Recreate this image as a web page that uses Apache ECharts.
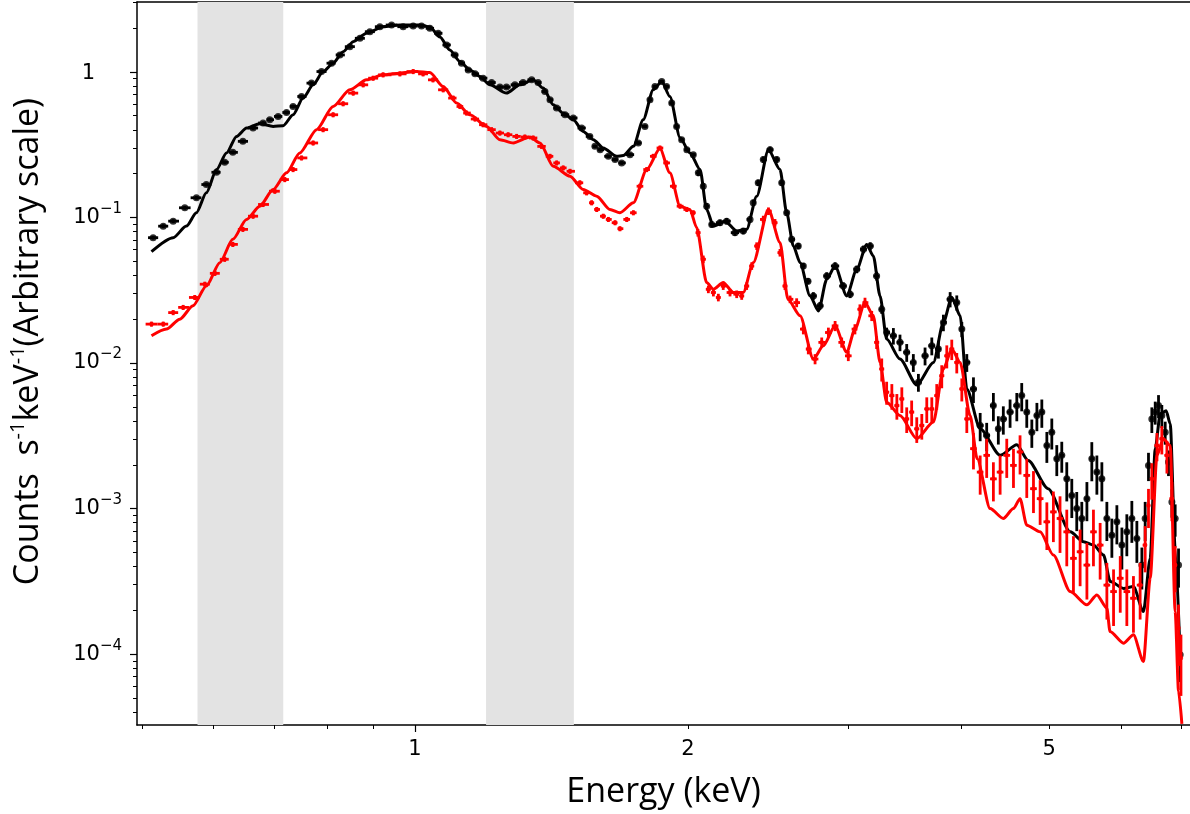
<!DOCTYPE html>
<html>
<head>
<meta charset="utf-8">
<title>Spectrum</title>
<script src="https://cdn.jsdelivr.net/npm/echarts@6/dist/echarts.min.js"></script>
<style>
  html, body { margin: 0; padding: 0; background: #fff; }
  #chart { width: 1190px; height: 814px; }
</style>
</head>
<body>
<div id="chart"></div>
<script>
// axis ranges (keV, counts s^-1 keV^-1)
var xRange = [0.494, 7.15];
var yRange = [3.26e-5, 3.02];

// shaded energy bands
var bands = [[0.576, 0.716], [1.198, 1.497]];

// tick marks
var xMajorTicks = [1];
var xMinorTicks = [0.5, 0.6, 0.7, 0.8, 0.9, 2, 3, 4, 5, 6, 7];
var xTickLabels = [1, 2, 5];
var yMajorTicks = [1e-4, 1e-3, 1e-2, 1e-1, 1];
var yMinorMultipliers = [2, 3, 4, 5, 6, 7, 8, 9];

// black model
var blackModelE = [0.5125,0.5415,0.560,0.5744,0.589,0.6045,0.620,0.636,0.6523,0.6746,
  0.6978,0.7158,0.7341,0.753,0.7724,0.7922,0.8126,0.8335,0.8551,0.8846,
  0.9225,0.9627,1.0128,1.0388,1.0656,1.0928,1.121,1.150,1.1795,1.2098,
  1.2617,1.3055,1.350,1.385,1.4207,1.457,1.4949,1.533,1.573,1.6129,
  1.669,1.697,1.741,1.785,1.831,1.871,1.910,1.960,2.010,2.062,
  2.097,2.133,2.197,2.263,2.321,2.381,2.453,2.526,2.569,2.613,
  2.658,2.726,2.785,2.844,2.905,2.992,3.069,3.148,3.201,3.256,
  3.311,3.425,3.574,3.728,3.824,3.906,3.99,4.058,4.198,4.416,
  4.607,4.742,4.988,5.276,5.457,5.597,5.741,5.840,6.04,6.194,
  6.353,6.463,6.546,6.630,6.73,6.80,6.886,6.974];
var blackModelV = [0.0582,0.0726,0.0872,0.1077,0.1476,0.2133,0.2774,0.3604,0.4115,0.4404,
  0.4220,0.4267,0.5075,0.6606,0.8147,1.005,1.147,1.377,1.613,1.841,
  2.043,2.099,2.099,2.033,1.737,1.415,1.176,1.032,0.929,0.8147,
  0.7146,0.8147,0.8815,0.7734,0.5943,0.5215,0.469,0.390,0.342,0.3002,
  0.263,0.266,0.3078,0.469,0.7528,0.858,0.6774,0.353,0.2774,0.2133,
  0.1135,0.0872,0.0943,0.0806,0.0828,0.140,0.2922,0.2133,0.1077,0.0636,
  0.0489,0.0289,0.0228,0.0376,0.0464,0.0289,0.0440,0.0653,0.0543,0.0289,
  0.0146,0.01065,0.00707,0.0101,0.0190,0.0283,0.0211,0.00664,0.00353,0.00232,
  0.00274,0.00214,0.00137,0.000692,0.000591,0.000561,0.000479,0.000316,0.000283,0.000291,
  0.000196,0.000455,0.00258,0.00448,0.00469,0.00382,0.000532,0.0000939];

// red model
var redModelE = [0.5125,0.5324,0.5507,0.5694,0.589,0.6095,0.630,0.6523,0.6746,0.6978,
  0.722,0.7467,0.7792,0.8126,0.8478,0.8846,0.9225,0.9627,1.004,1.0388,
  1.0745,1.1117,1.150,1.1997,1.2408,1.2835,1.3392,1.3736,1.4207,1.4824,
  1.533,1.5864,1.6406,1.6827,1.741,1.801,1.8627,1.910,1.960,2.010,
  2.044,2.097,2.133,2.187,2.244,2.301,2.360,2.453,2.526,2.577,
  2.658,2.749,2.819,2.905,2.992,3.055,3.134,3.201,3.256,3.311,
  3.425,3.574,3.728,3.824,3.906,3.99,4.092,4.166,4.305,4.452,
  4.568,4.645,4.725,4.888,5.055,5.276,5.504,5.645,5.790,5.836,
  6.04,6.194,6.353,6.463,6.575,6.683,6.80,6.886,6.945,7.004];
var redModelV = [0.01538,0.0171,0.0200,0.0247,0.0338,0.0489,0.0707,0.0969,0.1195,0.1555,
  0.2024,0.2774,0.4009,0.5786,0.7528,0.8815,0.954,0.980,1.005,0.989,
  0.793,0.6104,0.5075,0.422,0.342,0.3248,0.357,0.3248,0.2246,0.1918,
  0.1555,0.140,0.1135,0.1077,0.1261,0.2133,0.297,0.2024,0.1195,0.1135,
  0.0854,0.0357,0.0321,0.0357,0.0305,0.0305,0.0489,0.1135,0.0674,0.0274,
  0.0211,0.01065,0.01313,0.0180,0.01184,0.0171,0.0260,0.0211,0.0101,0.00538,
  0.00436,0.00302,0.00393,0.0091,0.01247,0.0101,0.00436,0.0022,0.001,0.000855,
  0.001,0.00117,0.000769,0.000692,0.000479,0.000269,0.000218,0.000255,0.000207,0.000143,
  0.000119,0.000136,0.0000891,0.000332,0.00232,0.00302,0.00271,0.000196,0.0000556,0.0000332];

// black data points and fractional errors
var blackDataE = [0.5146,0.528,0.5415,0.5577,0.5744,0.589,0.6045,0.6171,0.630,0.6463,
  0.6632,0.6803,0.692,0.7068,0.722,0.7341,0.750,0.7692,0.789,0.8094,
  0.8266,0.8478,0.8698,0.892,0.915,0.9426,0.9707,0.9957,1.017,1.0388,
  1.061,1.084,1.107,1.126,1.145,1.165,1.189,1.215,1.2408,1.2617,
  1.289,1.316,1.345,1.367,1.391,1.409,1.433,1.464,1.4949,1.527,
  1.559,1.579,1.600,1.634,1.662,1.690,1.726,1.763,1.793,1.816,
  1.839,1.871,1.894,1.919,1.943,1.968,1.994,2.027,2.053,2.079,
  2.097,2.124,2.169,2.206,2.253,2.301,2.341,2.360,2.390,2.421,
  2.463,2.505,2.537,2.569,2.602,2.646,2.680,2.712,2.749,2.796,
  2.844,2.905,2.966,3.018,3.069,3.122,3.176,3.228,3.270,3.311,
  3.368,3.425,3.484,3.543,3.589,3.650,3.713,3.776,3.824,3.890,
  3.956,4.007,4.058,4.127,4.198,4.268,4.341,4.396,4.452,4.529,
  4.607,4.665,4.725,4.786,4.848,4.909,4.972,5.035,5.099,5.164,
  5.230,5.297,5.364,5.433,5.504,5.573,5.645,5.717,5.790,5.864,
  5.939,6.015,6.091,6.169,6.248,6.328,6.381,6.435,6.490,6.546,
  6.601,6.657,6.714,6.770,6.829,6.886,6.945,6.974];
var blackDataV = [0.0726,0.0871,0.0943,0.1165,0.1365,0.1683,0.2043,0.2393,0.280,0.3332,
  0.4115,0.4453,0.469,0.494,0.526,0.5786,0.6774,0.837,1.005,1.147,
  1.307,1.490,1.701,1.888,2.043,2.099,2.043,2.065,2.065,1.992,
  1.841,1.531,1.307,1.147,1.032,0.969,0.905,0.845,0.786,0.786,
  0.8147,0.845,0.8815,0.845,0.733,0.643,0.564,0.5075,0.482,0.4115,
  0.3604,0.3078,0.292,0.263,0.2496,0.2369,0.270,0.3248,0.422,0.643,
  0.793,0.858,0.793,0.6104,0.422,0.342,0.292,0.270,0.2024,0.1638,
  0.1195,0.0895,0.092,0.0943,0.0786,0.0806,0.0969,0.1261,0.173,0.2496,
  0.292,0.2496,0.173,0.1077,0.0707,0.0636,0.0464,0.0365,0.0289,0.0247,
  0.0396,0.0464,0.0338,0.0297,0.0440,0.0604,0.0636,0.0396,0.0234,0.0162,
  0.01538,0.01386,0.01184,0.0101,0.00738,0.0112,0.01313,0.01247,0.019,0.0274,
  0.0260,0.0171,0.0101,0.00664,0.00372,0.00318,0.0051,0.00353,0.00413,0.0046,
  0.0051,0.00597,0.0046,0.00335,0.00436,0.0046,0.00271,0.00335,0.0022,0.00232,
  0.0016,0.00123,0.001,0.000855,0.00117,0.0022,0.00178,0.0016,0.000855,0.000656,
  0.000811,0.000561,0.000692,0.000855,0.000623,0.000409,0.000855,0.00198,0.00413,0.0046,
  0.0051,0.00436,0.00335,0.00209,0.00111,0.000855,0.000409,0.0000989];
var blackDataErr = [0.03,0.03,0.03,0.03,0.03,0.03,0.03,0.03,0.03,0.03,
  0.03,0.03,0.03,0.03,0.03,0.03,0.03,0.03,0.03,0.03,
  0.03,0.03,0.03,0.03,0.03,0.03,0.03,0.03,0.03,0.03,
  0.03,0.03,0.03,0.03,0.03,0.03,0.03,0.03,0.03,0.03,
  0.03,0.03,0.03,0.03,0.03,0.03,0.03,0.03,0.03,0.03,
  0.03,0.03,0.03,0.03,0.03,0.03,0.03,0.03,0.03,0.03,
  0.03,0.03,0.03,0.03,0.03,0.03,0.03,0.03,0.05,0.05,
  0.05,0.05,0.05,0.05,0.05,0.05,0.05,0.05,0.05,0.05,
  0.05,0.05,0.05,0.05,0.05,0.05,0.05,0.05,0.06,0.06,
  0.06,0.06,0.06,0.06,0.06,0.06,0.06,0.07,0.07,0.08,
  0.13,0.13,0.14,0.14,0.14,0.14,0.14,0.14,0.13,0.12,
  0.12,0.12,0.14,0.2,0.22,0.22,0.22,0.22,0.22,0.22,
  0.22,0.22,0.22,0.22,0.22,0.22,0.24,0.24,0.24,0.24,
  0.3,0.3,0.3,0.3,0.3,0.3,0.3,0.3,0.3,0.3,
  0.3,0.32,0.32,0.32,0.32,0.32,0.3,0.22,0.2,0.18,
  0.18,0.18,0.18,0.2,0.22,0.25,0.3,0.35];

// red data points and fractional errors
var redDataE = [0.5125,0.528,0.5415,0.5554,0.572,0.5868,0.602,0.6171,0.630,0.6463,
  0.6632,0.6803,0.7009,0.7188,0.7341,0.750,0.7724,0.7922,0.8126,0.8335,
  0.8551,0.877,0.8995,0.9225,0.9627,0.9957,1.021,1.047,1.0745,1.102,
  1.121,1.140,1.165,1.189,1.215,1.2408,1.267,1.2945,1.322,1.350,
  1.379,1.409,1.433,1.457,1.4824,1.520,1.546,1.566,1.5864,1.6129,
  1.634,1.662,1.6827,1.712,1.741,1.770,1.801,1.831,1.8627,1.894,
  1.927,1.960,1.994,2.027,2.051,2.079,2.106,2.133,2.160,2.187,
  2.225,2.263,2.292,2.321,2.351,2.381,2.421,2.453,2.494,2.526,
  2.558,2.591,2.635,2.680,2.714,2.761,2.808,2.856,2.905,2.954,
  3.004,3.055,3.094,3.134,3.188,3.228,3.270,3.311,3.355,3.398,
  3.441,3.484,3.528,3.574,3.620,3.666,3.713,3.760,3.808,3.857,
  3.906,3.956,4.007,4.058,4.127,4.198,4.268,4.341,4.416,4.491,
  4.568,4.645,4.725,4.806,4.888,4.972,5.055,5.141,5.230,5.319,
  5.410,5.504,5.596,5.692,5.790,5.889,5.990,6.091,6.194,6.30,
  6.381,6.435,6.490,6.575,6.657,6.743,6.829,6.886,6.945,6.988];
var redDataV = [0.0185,0.0185,0.0222,0.0241,0.0282,0.0348,0.0413,0.0516,0.0653,0.0828,
  0.102,0.1228,0.1514,0.182,0.2133,0.2564,0.3248,0.4009,0.5075,0.604,
  0.7146,0.8147,0.905,0.954,0.969,1.005,0.969,0.8815,0.753,0.6606,
  0.5786,0.5215,0.4744,0.4335,0.4009,0.380,0.370,0.3604,0.357,0.3515,
  0.3078,0.263,0.2369,0.219,0.2075,0.173,0.1476,0.1261,0.1135,0.102,
  0.0969,0.092,0.0837,0.0969,0.1077,0.1638,0.2133,0.263,0.300,0.2369,
  0.1638,0.1195,0.1135,0.1077,0.0786,0.0516,0.0321,0.0305,0.0282,0.0338,
  0.0305,0.0297,0.0289,0.0338,0.0464,0.0636,0.0969,0.1105,0.092,0.0573,
  0.0338,0.0274,0.0260,0.0171,0.01247,0.01065,0.01386,0.0162,0.018,0.01386,
  0.0112,0.0171,0.0234,0.026,0.0211,0.01386,0.0091,0.0063,0.00597,0.0051,
  0.00567,0.00413,0.0046,0.00353,0.00372,0.00484,0.00484,0.00597,0.00818,0.0112,
  0.01247,0.0101,0.00664,0.00413,0.00258,0.00178,0.00232,0.0016,0.00178,0.00232,
  0.00198,0.00245,0.00169,0.00137,0.00117,0.000811,0.000949,0.000855,0.000692,0.000455,
  0.000505,0.000409,0.000692,0.000561,0.000298,0.000269,0.000332,0.000269,0.000242,0.000298,
  0.000561,0.00105,0.0016,0.00271,0.00302,0.00232,0.00117,0.000409,0.000151,0.0000939];
var redDataErr = [0.04,0.04,0.04,0.04,0.04,0.04,0.04,0.04,0.04,0.04,
  0.04,0.04,0.04,0.04,0.04,0.04,0.04,0.04,0.04,0.04,
  0.04,0.04,0.04,0.04,0.04,0.04,0.04,0.04,0.04,0.04,
  0.04,0.04,0.04,0.04,0.04,0.04,0.04,0.04,0.04,0.04,
  0.04,0.04,0.04,0.04,0.04,0.04,0.04,0.04,0.04,0.04,
  0.04,0.04,0.04,0.04,0.04,0.04,0.04,0.04,0.04,0.04,
  0.04,0.04,0.04,0.04,0.06,0.06,0.06,0.06,0.06,0.06,
  0.06,0.06,0.06,0.06,0.06,0.06,0.06,0.06,0.06,0.06,
  0.06,0.06,0.07,0.08,0.08,0.08,0.08,0.08,0.08,0.08,
  0.08,0.08,0.08,0.08,0.08,0.1,0.18,0.18,0.2,0.2,
  0.2,0.2,0.2,0.2,0.2,0.2,0.2,0.2,0.18,0.18,
  0.16,0.16,0.18,0.2,0.28,0.3,0.3,0.3,0.3,0.3,
  0.3,0.3,0.3,0.32,0.34,0.36,0.38,0.42,0.42,0.42,
  0.42,0.42,0.42,0.42,0.42,0.42,0.42,0.42,0.42,0.42,
  0.35,0.3,0.28,0.22,0.22,0.25,0.3,0.35,0.45,0.45];

var chart = echarts.init(document.getElementById('chart'));

function pairs(E, V) {
  return E.map(function (e, i) { return [e, V[i]]; });
}

// each row: energy, value, bin low edge, bin high edge, value low, value high
function errRows(E, V, F) {
  return E.map(function (e, i) {
    var prev = i > 0 ? E[i - 1] : e * e / E[i + 1];
    var next = i < E.length - 1 ? E[i + 1] : e * e / E[i - 1];
    return [e, V[i], Math.sqrt(prev * e), Math.sqrt(e * next), V[i] * (1 - F[i]), V[i] * (1 + F[i])];
  });
}

function errRender(color, width) {
  return function (params, api) {
    var p = api.coord([api.value(0), api.value(1)]);
    var yLo = api.coord([api.value(0), api.value(4)])[1];
    var yHi = api.coord([api.value(0), api.value(5)])[1];
    var xLo = api.coord([api.value(2), api.value(1)])[0];
    var xHi = api.coord([api.value(3), api.value(1)])[0];
    var st = { stroke: color, lineWidth: width };
    return {
      type: 'group',
      children: [
        { type: 'line', shape: { x1: p[0], y1: yLo, x2: p[0], y2: yHi }, style: st },
        { type: 'line', shape: { x1: xLo, y1: p[1], x2: xHi, y2: p[1] }, style: st }
      ]
    };
  };
}

var yMinorTicks = [];
[-5, -4, -3, -2, -1, 0].forEach(function (k) {
  yMinorMultipliers.forEach(function (m) {
    var v = m * Math.pow(10, k);
    if (v > yRange[0] && v < yRange[1]) yMinorTicks.push(v);
  });
});

var tickFont = 'DejaVu Sans';
var titleFont = 'Open Sans';

function yLabel(v) {
  var n = Math.round(Math.log10(v));
  if (n === 0) return '{one|1}';
  return '{b|10}{sup|\u2212' + (-n) + '}';
}

var option = {
  animation: false,
  backgroundColor: '#fff',
  grid: { left: 137, right: 0, top: 2, bottom: 87 },
  xAxis: [
    {
      type: 'log', min: xRange[0], max: xRange[1], position: 'bottom',
      name: 'Energy (keV)', nameLocation: 'middle', nameGap: 50,
      nameTextStyle: { fontFamily: titleFont, fontSize: 34, color: '#000' },
      axisLine: { show: true, lineStyle: { color: '#000', width: 1.5 } },
      axisTick: { show: true, customValues: xMajorTicks, length: 7, lineStyle: { color: '#000', width: 1.2 } },
      axisLabel: { customValues: xTickLabels, margin: 14, fontFamily: tickFont, fontSize: 21, color: '#000',
        formatter: function (v) { return String(Math.round(v)); } },
      splitLine: { show: false }
    },
    {
      type: 'log', min: xRange[0], max: xRange[1], position: 'bottom',
      axisLine: { show: false },
      axisTick: { show: true, customValues: xMinorTicks, length: 4, lineStyle: { color: '#000', width: 1 } },
      axisLabel: { show: false },
      splitLine: { show: false }
    },
    {
      type: 'log', min: xRange[0], max: xRange[1], position: 'top',
      axisLine: { show: true, lineStyle: { color: '#000', width: 1.5 } },
      axisTick: { show: false }, axisLabel: { show: false }, splitLine: { show: false }
    }
  ],
  yAxis: [
    {
      type: 'log', min: yRange[0], max: yRange[1], position: 'left',
      name: 'Counts  s{sup|-1}keV{sup|-1}(Arbitrary scale)',
      nameLocation: 'middle', nameRotate: 90, nameGap: 89,
      nameTextStyle: {
        fontFamily: titleFont, fontSize: 34, color: '#000', padding: [0, 0, 0, 44],
        rich: { sup: { fontFamily: titleFont, fontSize: 20, color: '#000', padding: [0, 0, 20, 0] } }
      },
      axisLine: { show: true, lineStyle: { color: '#000', width: 1.5 } },
      axisTick: { show: true, customValues: yMajorTicks, length: 7, lineStyle: { color: '#000', width: 1.2 } },
      axisLabel: {
        customValues: yMajorTicks, margin: 15, formatter: yLabel,
        rich: {
          one: { fontFamily: tickFont, fontSize: 21, color: '#000', padding: [3, 27, 0, 0] },
          b: { fontFamily: tickFont, fontSize: 21, color: '#000' },
          sup: { fontFamily: tickFont, fontSize: 15, color: '#000', padding: [0, 0, 17, 0] }
        }
      },
      splitLine: { show: false }
    },
    {
      type: 'log', min: yRange[0], max: yRange[1], position: 'left',
      axisLine: { show: false },
      axisTick: { show: true, customValues: yMinorTicks, length: 4, lineStyle: { color: '#000', width: 1 } },
      axisLabel: { show: false },
      splitLine: { show: false }
    }
  ],
  series: [
    {
      name: 'bands', type: 'line', data: [], silent: true,
      markArea: {
        silent: true,
        itemStyle: { color: '#e3e3e3' },
        data: bands.map(function (b) { return [{ xAxis: b[0] }, { xAxis: b[1] }]; })
      },
      z: 0
    },
    {
      name: 'black data err', type: 'custom', renderItem: errRender('#000', 2.8),
      data: errRows(blackDataE, blackDataV, blackDataErr),
      encode: { x: 0, y: 1 }, clip: true, z: 2
    },
    {
      name: 'black data', type: 'scatter', symbol: 'circle', symbolSize: 7,
      itemStyle: { color: '#000' }, data: pairs(blackDataE, blackDataV), z: 3
    },
    {
      name: 'black model', type: 'line', showSymbol: false, smooth: 0.25, smoothMonotone: 'x',
      lineStyle: { color: '#000', width: 3 }, data: pairs(blackModelE, blackModelV), z: 4
    },
    {
      name: 'red data err', type: 'custom', renderItem: errRender('#ff0000', 2.8),
      data: errRows(redDataE, redDataV, redDataErr),
      encode: { x: 0, y: 1 }, clip: true, z: 5
    },
    {
      name: 'red data', type: 'scatter', symbol: 'circle', symbolSize: 4.5,
      itemStyle: { color: '#ff0000' }, data: pairs(redDataE, redDataV), z: 6
    },
    {
      name: 'red model', type: 'line', showSymbol: false, smooth: 0.25, smoothMonotone: 'x',
      lineStyle: { color: '#ff0000', width: 3 }, data: pairs(redModelE, redModelV), z: 7
    }
  ]
};

chart.setOption(option);
</script>
</body>
</html>
